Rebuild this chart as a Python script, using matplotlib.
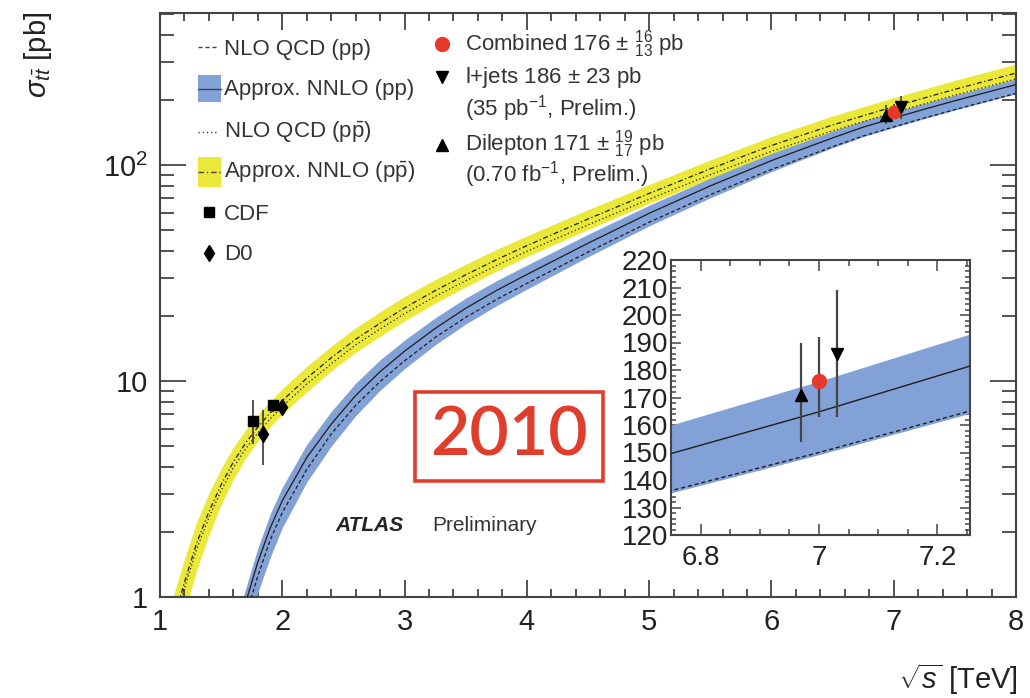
import matplotlib
matplotlib.use('Agg')
import numpy as np
import matplotlib.pyplot as plt
from matplotlib.lines import Line2D
from matplotlib.patches import Rectangle
from matplotlib.ticker import FixedLocator, FuncFormatter, MultipleLocator, LogLocator, NullFormatter

plt.rcParams['font.family'] = ['Liberation Sans', 'DejaVu Sans']
plt.rcParams['mathtext.fontset'] = 'custom'
plt.rcParams['mathtext.rm'] = 'Liberation Sans'
plt.rcParams['mathtext.it'] = 'Liberation Sans:italic'
plt.rcParams['mathtext.bf'] = 'Liberation Sans:bold'

# ---------------- data ----------------
# pp : approx. NNLO and NLO QCD (pb), band uncertainties in percent
E_pp = [1.6, 1.65, 1.7, 1.8, 1.9, 2.0, 2.2, 2.4, 2.6, 2.8, 3.0, 3.25, 3.5, 3.75,
        4.0, 4.5, 5.0, 5.5, 6.0, 6.5, 6.75, 7.0, 7.25, 7.5, 8.0]
nnlo_pp = [0.60, 0.76, 0.94, 1.45, 2.08, 2.79, 4.42, 6.31, 8.57, 11.04, 13.74, 17.5, 21.7, 26.2,
           31.1, 43.4, 59.7, 80.0, 104.7, 133.4, 149.6, 164.8, 181.1, 198.2, 235.5]
nlo_pp = [0.52, 0.65, 0.81, 1.25, 1.83, 2.46, 3.89, 5.68, 7.71, 9.94, 12.4, 15.9, 19.7, 23.8,
          28.3, 39.5, 54.3, 72.8, 95.3, 121.4, 136.1, 150.0, 164.8, 180.4, 214.3]
pp_unc_up = [16, 16, 16, 16, 16, 15.5, 15, 14.5, 14, 13.5, 12.5, 12, 11.5, 11,
             10.5, 10, 9, 8.5, 8, 7.5, 6.8, 6.6, 6.3, 6.2, 6.0]
pp_unc_dn = [32, 31, 30, 28, 27, 25, 23, 21, 19.5, 18, 17, 16, 15.5, 15,
             14.5, 13.5, 12.5, 12, 11, 10, 9.7, 9.6, 9.6, 9.5, 9.4]

# p-pbar : approx. NNLO and NLO QCD (pb), symmetric band in percent
E_ppbar = [1.1, 1.15, 1.2, 1.3, 1.4, 1.5, 1.6, 1.7, 1.8, 1.9, 2.0, 2.2, 2.4, 2.6, 2.8, 3.0,
           3.25, 3.5, 3.75, 4.0, 4.5, 5.0, 5.5, 6.0, 6.5, 7.0, 7.5, 8.0]
nnlo_ppbar = [0.74, 0.93, 1.17, 1.78, 2.48, 3.31, 4.22, 5.16, 6.12, 7.10, 8.11, 10.3, 12.8, 15.6,
              18.5, 21.8, 26.2, 31.0, 36.4, 42.3, 56.2, 73.8, 95.9, 123.0, 153.1, 186.2, 223.9, 266.1]
nlo_ppbar = [0.70, 0.87, 1.10, 1.67, 2.33, 3.11, 3.97, 4.85, 5.75, 6.67, 7.62, 9.68, 12.0, 14.7,
             17.4, 20.5, 24.6, 29.1, 34.2, 39.8, 52.8, 69.4, 90.1, 115.6, 143.9, 175.0, 210.5, 250.1]
ppbar_unc = [31, 30, 28, 25, 22, 19, 17, 15, 14, 13.5, 13.5, 13.5, 13, 13,
             13, 13, 12.5, 12, 11.5, 11, 10.5, 10, 10, 10, 10, 10, 10, 10]

# Tevatron measurements
cdf_E = [1.76, 1.92]
cdf_xs = [6.5, 7.7]
cdf_lo = [1.4, 0.5]
cdf_hi = [1.7, 0.5]
d0_E = [1.84, 2.0]
d0_xs = [5.7, 7.6]
d0_lo = [1.6, 0.6]
d0_hi = [1.6, 0.6]

# ATLAS 7 TeV measurements: dilepton, combined, l+jets
atlas_names = ['Dilepton', 'Combined', 'l+jets']
atlas_E_main = [6.94, 7.0, 7.06]
atlas_E_inset = [6.97, 7.0, 7.03]
atlas_xs = [171, 176, 186]
atlas_lo = [17, 13, 23]
atlas_hi = [19, 16, 23]
atlas_markers = ['^', 'o', 'v']
atlas_colors = ['black', '#e5392a', 'black']

# ---------------- styling ----------------
W, H = 1030, 698
BLUE = '#82a1d6'
YELLOW = '#ece83a'
RED = '#e03e2d'
TXT = '#333333'
LINE = '#1e1e1e'


def fx(x):
    return x / W


def fy(y):
    return 1 - y / H


fig = plt.figure(figsize=(W / 100, H / 100), dpi=100)
ax = fig.add_axes([fx(160), fy(597), 856 / W, 584 / H])

Epp = np.array(E_pp)
npp = np.array(nnlo_pp)
Eap = np.array(E_ppbar)
nap = np.array(nnlo_ppbar)
pp_lo_band = npp * (1 - np.array(pp_unc_dn) / 100)
pp_hi_band = npp * (1 + np.array(pp_unc_up) / 100)
ap_lo_band = nap * (1 - np.array(ppbar_unc) / 100)
ap_hi_band = nap * (1 + np.array(ppbar_unc) / 100)


def draw_pp(a, lw=0.9):
    a.fill_between(Epp, pp_lo_band, pp_hi_band, color=BLUE, lw=0, zorder=2)
    a.plot(Epp, nlo_pp, color=LINE, lw=lw, ls=(0, (3, 2)), zorder=3)
    a.plot(Epp, nnlo_pp, color=LINE, lw=lw, ls='-', zorder=3)


def draw_ppbar(a, lw=0.9):
    a.fill_between(Eap, ap_lo_band, ap_hi_band, color=YELLOW, lw=0, zorder=1)
    a.plot(Eap, nlo_ppbar, color=LINE, lw=lw, ls=(0, (1, 2)), zorder=3)
    a.plot(Eap, nnlo_ppbar, color=LINE, lw=lw, ls=(0, (4, 2, 1, 2)), zorder=3)


draw_ppbar(ax)
draw_pp(ax)

# Tevatron points
ax.errorbar(cdf_E, cdf_xs, yerr=[cdf_lo, cdf_hi], fmt='s', color='black', ms=7,
            ecolor='#444444', elinewidth=1.3, capsize=0, zorder=5)
ax.errorbar(d0_E, d0_xs, yerr=[d0_lo, d0_hi], fmt='d', color='black', ms=8,
            ecolor='#444444', elinewidth=1.3, capsize=0, zorder=5)
# ATLAS points (main)
for e, v, lo, hi, m, c in zip(atlas_E_main, atlas_xs, atlas_lo, atlas_hi, atlas_markers, atlas_colors):
    ax.errorbar([e], [v], yerr=[[lo], [hi]], fmt=m, color=c, ms=8 if m != 'o' else 9,
                ecolor='#444444', elinewidth=1.2, capsize=0, zorder=6)

ax.set_yscale('log')
ax.set_xlim(1, 8)
ax.set_ylim(1, 505)

ax.xaxis.set_major_locator(MultipleLocator(1))
ax.xaxis.set_minor_locator(MultipleLocator(0.2))
ax.yaxis.set_major_locator(FixedLocator([1, 10, 100]))
ax.yaxis.set_major_formatter(FuncFormatter(lambda v, p: {1: '1', 10: '10', 100: r'$10^{2}$'}.get(int(round(v)), '')))
ax.yaxis.set_minor_locator(LogLocator(base=10, subs=np.arange(2, 10)))
ax.yaxis.set_minor_formatter(NullFormatter())

ax.tick_params(which='both', direction='in', top=True, right=True, width=1.3, color='#444444',
               labelsize=21, labelcolor='#222222')
ax.tick_params(axis='y', which='major', length=19, pad=9)
ax.tick_params(axis='y', which='minor', length=10)
ax.tick_params(axis='x', which='major', length=12, pad=8)
ax.tick_params(axis='x', which='minor', length=6)
for s in ax.spines.values():
    s.set_color('#444444')
    s.set_linewidth(1.5)

# axis titles
fig.text(fx(38), fy(12), r'$\sigma_{t\bar{t}}$ [pb]', rotation=90, ha='center', va='top',
         fontsize=21, color='#222222')
fig.text(fx(1018), fy(689), r'$\sqrt{s}$ [TeV]', ha='right', va='baseline', fontsize=21, color='#222222')

# ---------------- inset (pp only) ----------------
axin = fig.add_axes([fx(671), fy(535), 299 / W, 275 / H])
draw_pp(axin, lw=1.0)
for e, v, lo, hi, m, c in zip(atlas_E_inset, atlas_xs, atlas_lo, atlas_hi, atlas_markers, atlas_colors):
    axin.errorbar([e], [v], yerr=[[lo], [hi]], fmt=m, color=c, ms=10 if m == 'o' else 9,
                  ecolor='#444444', elinewidth=1.6, capsize=0, zorder=6)
axin.set_xlim(6.75, 7.255)
axin.set_ylim(120, 220)
axin.xaxis.set_major_locator(FixedLocator([6.8, 7.0, 7.2]))
axin.xaxis.set_major_formatter(FuncFormatter(lambda v, p: '%g' % round(v, 2)))
axin.xaxis.set_minor_locator(MultipleLocator(0.05))
axin.yaxis.set_major_locator(MultipleLocator(10))
axin.yaxis.set_minor_locator(MultipleLocator(2))
axin.tick_params(which='both', direction='in', top=True, right=True, width=1.1, color='#444444',
                 labelsize=20, labelcolor='#222222')
axin.tick_params(axis='y', which='major', length=7, pad=2)
axin.tick_params(axis='y', which='minor', length=3.5)
axin.tick_params(axis='x', which='major', length=8, pad=7)
axin.tick_params(axis='x', which='minor', length=4)
for s in axin.spines.values():
    s.set_color('#444444')
    s.set_linewidth(1.5)

# ---------------- 2010 stamp + ATLAS label ----------------
fig.add_artist(Rectangle((fx(415), fy(481)), 188 / W, 89 / H, transform=fig.transFigure,
                         fill=False, ec=RED, lw=2.6))
fig.text(fx(509), fy(437), '2010', ha='center', va='center', fontsize=49, color=RED,
         family=['Lato', 'DejaVu Sans'], weight=600)
fig.text(fx(335), fy(531), 'ATLAS', ha='left', va='baseline', fontsize=15, weight='bold',
         style='italic', color='#222222')
fig.text(fx(432), fy(531), 'Preliminary', ha='left', va='baseline', fontsize=15, color='#333333')

# ---------------- legend (keys + labels) ----------------
def key_line(x0, x1, y, ls):
    fig.add_artist(Line2D([fx(x0), fx(x1)], [fy(y), fy(y)], transform=fig.transFigure,
                          color='#444444', lw=1.0, ls=ls))


def key_box(x0, y0, w, h, fc):
    fig.add_artist(Rectangle((fx(x0), fy(y0 + h)), w / W, h / H, transform=fig.transFigure,
                             fc=fc, ec='none'))


def key_marker(x, y, m, c, ms):
    fig.add_artist(Line2D([fx(x)], [fy(y)], transform=fig.transFigure, marker=m, color=c,
                          ms=ms, ls='none'))


key_line(198, 218, 47, (0, (3, 2)))
key_box(197.5, 75, 23.5, 27, BLUE)
key_line(197.5, 221, 88.5, '-')
key_line(198, 218, 132, (0, (1, 2)))
key_box(197.5, 157, 23.5, 30, YELLOW)
key_line(197.5, 221, 172, (0, (4, 2, 1, 2)))
key_marker(209, 212, 's', 'black', 6.5)
key_marker(209, 253, 'd', 'black', 8)

left_labels = ['NLO QCD (pp)', 'Approx. NNLO (pp)', r'NLO QCD (p$\bar{\mathrm{p}}$)',
               r'Approx. NNLO (p$\bar{\mathrm{p}}$)', 'CDF', 'D0']
left_base = [55, 95, 138, 178, 220, 260]
for t, b in zip(left_labels, left_base):
    fig.text(fx(224), fy(b), t, ha='left', va='baseline', fontsize=16, color=TXT)

key_marker(442, 44, 'o', atlas_colors[1], 10)
key_marker(442, 77, 'v', 'black', 9)
key_marker(442, 145, '^', 'black', 9)
right_labels = [r'Combined 176 $\pm$ ${}^{16}_{13}$ pb', r'l+jets 186 $\pm$ 23 pb',
                r'(35 pb$^{-1}$, Prelim.)', r'Dilepton 171 $\pm$ ${}^{19}_{17}$ pb',
                r'(0.70 fb$^{-1}$, Prelim.)']
right_base = [51, 83, 115, 151, 181]
for t, b in zip(right_labels, right_base):
    fig.text(fx(465), fy(b), t, ha='left', va='baseline', fontsize=16, color=TXT)

fig.savefig('out.png', dpi=100)
